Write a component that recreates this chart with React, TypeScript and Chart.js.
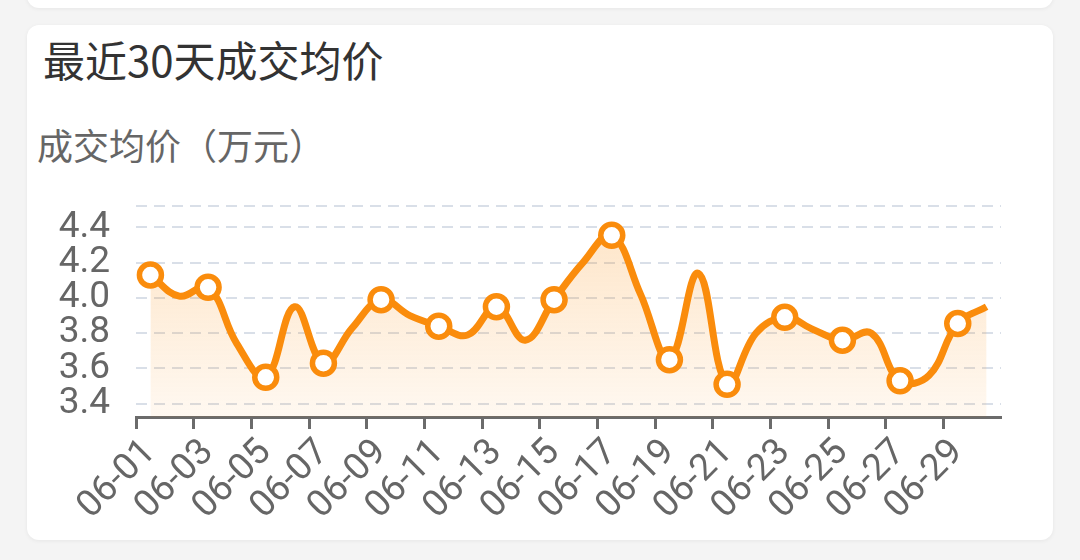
import { useRef, useEffect } from "react";
import Chart from "chart.js/auto";

const days = [
  "06-01", "06-02", "06-03", "06-04", "06-05", "06-06", "06-07", "06-08", "06-09", "06-10",
  "06-11", "06-12", "06-13", "06-14", "06-15", "06-16", "06-17", "06-18", "06-19", "06-20",
  "06-21", "06-22", "06-23", "06-24", "06-25", "06-26", "06-27", "06-28", "06-29", "06-30",
];

const prices = [
  4.13, 4.01, 4.06, 3.74, 3.55, 3.95, 3.63, 3.83, 3.99, 3.9,
  3.84, 3.79, 3.95, 3.76, 3.99, 4.2, 4.355, 4.02, 3.65, 4.14,
  3.51, 3.8, 3.89, 3.82, 3.76, 3.8, 3.53, 3.56, 3.855, 3.95,
];

const yTicks = [3.4, 3.6, 3.8, 4.0, 4.2, 4.4];
const yMin = 3.325;
const yMax = 4.52;

const ORANGE = "#fa8c0c";

export default function App() {
  const chartRef = useRef<HTMLCanvasElement>(null);

  useEffect(() => {
    if (!chartRef.current) return;
    const chart = new Chart(chartRef.current, {
      type: "line",
      data: {
        labels: days,
        datasets: [
          {
            data: prices,
            borderColor: ORANGE,
            borderWidth: 7,
            tension: 0.4,
            fill: "start",
            backgroundColor: (ctx: any) => {
              const area = ctx.chart.chartArea;
              if (!area) return "rgba(250,140,12,0.1)";
              const g = ctx.chart.ctx.createLinearGradient(0, area.top, 0, area.bottom);
              g.addColorStop(0, "rgba(250,140,12,0.24)");
              g.addColorStop(1, "rgba(250,140,12,0.06)");
              return g;
            },
            pointRadius: (ctx: any) => (ctx.dataIndex % 2 === 0 ? 11 : 0),
            pointBackgroundColor: "#ffffff",
            pointBorderColor: ORANGE,
            pointBorderWidth: 5.5,
            pointHoverRadius: 0,
          },
        ],
      },
      options: {
        animation: false,
        responsive: true,
        maintainAspectRatio: false,
        layout: { padding: { top: 4, right: 79, left: 0, bottom: 0 } },
        plugins: {
          legend: { display: false },
          tooltip: { enabled: false },
        },
        scales: {
          x: {
            offset: true,
            afterFit: (scale: any) => {
              scale.height = 123;
            },
            grid: {
              offset: true,
              drawOnChartArea: false,
              tickLength: 12,
              tickWidth: 3,
              tickColor: (ctx: any) => (ctx.index % 2 === 0 ? "#6b6b6b" : "rgba(0,0,0,0)"),
            },
            border: { display: true, color: "#6b6b6b", width: 3 },
            ticks: {
              autoSkip: false,
              minRotation: 45,
              maxRotation: 45,
              padding: 2,
              color: "#666666",
              font: { family: "Roboto", size: 37 },
              callback: (_v: any, i: number) => (i % 2 === 0 ? days[i] : ""),
            },
          },
          y: {
            min: yMin,
            max: yMax,
            afterFit: (scale: any) => {
              scale.width = 136;
            },
            afterBuildTicks: (scale: any) => {
              scale.ticks = [...yTicks, yMax].map((v) => ({ value: v }));
            },
            grid: {
              drawTicks: false,
              color: "#d9dfe8",
              lineWidth: 2,
            },
            border: { display: false, dash: [11, 7] },
            ticks: {
              autoSkip: false,
              padding: 26,
              color: "#666666",
              font: { family: "Roboto", size: 37 },
              callback: (v: any) => (v === yMax ? "" : Number(v).toFixed(1)),
            },
          },
        },
      },
    });
    return () => {
      chart.destroy();
    };
  }, []);

  return (
    <div
      style={{
        position: "fixed",
        inset: 0,
        background: "#f4f4f4",
        fontFamily: "'Noto Sans CJK SC', 'Noto Sans', sans-serif",
        overflow: "hidden",
      }}
    >
      <div
        style={{
          position: "absolute",
          left: 27,
          top: -30,
          width: 1026,
          height: 38,
          background: "#ffffff",
          borderRadius: 12,
          boxShadow: "0 1px 4px rgba(0,0,0,0.06)",
        }}
      />
      <div
        style={{
          position: "absolute",
          left: 27,
          top: 25,
          width: 1026,
          height: 515,
          background: "#ffffff",
          borderRadius: 12,
          boxShadow: "0 1px 4px rgba(0,0,0,0.06)",
        }}
      />
      <div
        style={{
          position: "absolute",
          left: 43,
          top: 34,
          fontSize: 42,
          lineHeight: "50px",
          color: "#333333",
          whiteSpace: "nowrap",
        }}
      >
        最近30天成交均价
      </div>
      <div
        style={{
          position: "absolute",
          left: 37,
          top: 122,
          fontSize: 36,
          lineHeight: "44px",
          color: "#666666",
          whiteSpace: "nowrap",
        }}
      >
        成交均价（万元）
      </div>
      <div style={{ position: "absolute", left: 0, top: 158, width: 1080, height: 382 }}>
        <canvas ref={chartRef} />
      </div>
    </div>
  );
}
